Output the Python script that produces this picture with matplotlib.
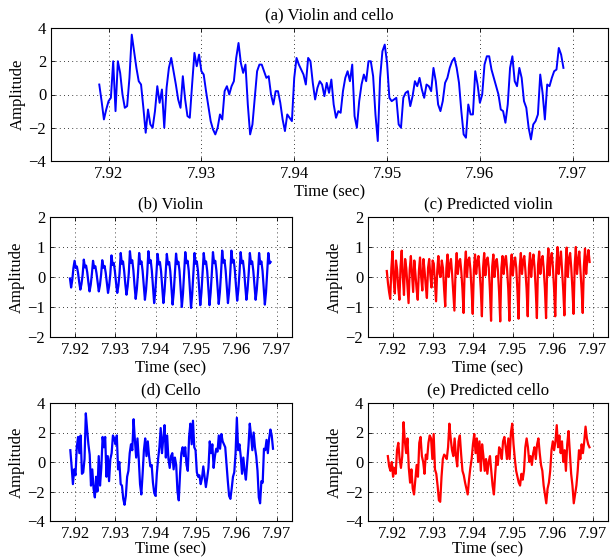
import numpy as np
import matplotlib
matplotlib.use("Agg")
import matplotlib.pyplot as plt

plt.rcParams['font.family'] = ['Liberation Serif', 'DejaVu Serif']
plt.rcParams['font.size'] = 12
plt.rcParams['axes.unicode_minus'] = True

# ---------------- data ----------------
mix_t0, mix_t1 = 7.9190, 7.9690
mix_vals = [
    0.6, -0.4, -1.5, -0.9, -0.4, -0.2, 2.0, -1.0, 2.0, 1.3, 0.0, -0.8, -0.7, 1.0, 3.6, 2.6,
    1.6, 0.8, 0.6, -0.8, -2.3, -0.9, -1.8, -2.0, -1.0, 0.5, -0.5, 0.3, -2.0, 0.4, 1.6, 2.2,
    1.4, 0.6, -0.3, -0.8, 1.1, -0.3, -1.3, -1.4, 0.6, 2.5, 1.7, 2.4, 1.4, 1.2, 0.2, -0.7,
    -1.6, -2.1, -2.4, -2.0, -1.2, -1.5, 0.2, 0.5, 0.0, 0.5, 0.8, 2.2, 3.1, 1.9, 1.3, 1.8,
    -0.6, -2.4, -1.8, -0.2, 1.4, 1.8, 1.8, 1.4, 1.0, 1.1, 0.0,
    -0.6, 0.2, 0.2, -0.5, -1.5, -2.2, -1.2, -1.4, -1.6, 1.0, 2.2, 1.8, 1.5, 1.2, 0.6, 2.2,
    2.0, 0.7, -0.3, 0.4, 0.8, 0.6, -0.1, 0.7, 0.1, 0.9, -0.6, -1.4, -1.0, -1.1, 0.2, 1.0,
    1.4, 0.8, 1.8, -1.3, -2.0, -0.4, 0.6, 1.2, 0.8, 2.0, 2.0, 1.1, -1.2, -2.8, 1.0, 2.6,
    3.0, 1.9, -0.2, -0.4, -0.3, -0.2, -1.8, -2.0, -0.2, 0.1, 0.2, -0.7, -0.1, 0.8, 0.5, 1.0,
    0.3, -0.2, 0.6, 0.5, 0.2, 1.6, 0.8, -0.6,
    -1.0, -0.4, 0.7, 1.0, 1.6, 2.0, 2.2, 1.6, 0.7, -1.0, -2.4, -2.6, -0.6, -1.2, -1.2, 1.4,
    0.6, -0.5, 0.0, 1.8, 2.3, 2.3, 1.5, 1.0, 0.5, 0.0, -0.9, -1.0, -1.7, -0.6, 1.6, 2.3,
    0.8, 0.5, 1.6, 1.0, -0.4, -0.8, -2.0, -2.7, -1.8, -1.6, -1.2, 1.2, 0.1, -1.5, 0.6, 0.5,
    1.0, 1.4, 1.5, 2.8, 2.4, 1.6,
]

violin_t0, violin_t1 = 7.91875, 7.9685
violin_vals = [
    -0.05, -0.35, -0.10, 0.30,
    0.54, 0.30, 0.35, 0.14, -0.17, -0.42, -0.23, 0.08,
    0.58, 0.32, 0.38, 0.15, -0.19, -0.48, -0.26, 0.10,
    0.54, 0.30, 0.36, 0.13, -0.19, -0.48, -0.27, 0.08,
    0.56, 0.31, 0.37, 0.14, -0.21, -0.53, -0.29, 0.10,
    0.72, 0.40, 0.47, 0.18, -0.21, -0.53, -0.29, 0.12,
    0.80, 0.44, 0.52, 0.20, -0.24, -0.59, -0.32, 0.12,
    0.86, 0.47, 0.56, 0.22, -0.29, -0.73, -0.40, 0.13,
    0.80, 0.44, 0.52, 0.20, -0.30, -0.76, -0.42, 0.12,
    0.86, 0.47, 0.56, 0.21, -0.35, -0.87, -0.48, 0.14,
    0.77, 0.42, 0.50, 0.19, -0.35, -0.87, -0.48, 0.12,
    0.77, 0.42, 0.50, 0.19, -0.37, -0.92, -0.51, 0.12,
    0.78, 0.43, 0.51, 0.20, -0.40, -1.00, -0.55, 0.13,
    0.83, 0.46, 0.54, 0.21, -0.41, -1.03, -0.57, 0.13,
    0.80, 0.44, 0.52, 0.20, -0.38, -0.94, -0.52, 0.12,
    0.80, 0.44, 0.52, 0.20, -0.38, -0.94, -0.52, 0.12,
    0.83, 0.46, 0.54, 0.21, -0.36, -0.90, -0.50, 0.13,
    0.88, 0.48, 0.57, 0.22, -0.35, -0.87, -0.48, 0.14,
    0.88, 0.48, 0.57, 0.22, -0.32, -0.79, -0.43, 0.14,
    0.83, 0.46, 0.54, 0.21, -0.30, -0.76, -0.42, 0.13,
    0.80, 0.44, 0.52, 0.20, -0.30, -0.76, -0.42, 0.12,
    0.80, 0.44, 0.52, 0.20, -0.37, -0.92, -0.51, 0.12,
    0.80, 0.45, 0.50,
]

pviolin_t0, pviolin_t1 = 7.9185, 7.9692
pviolin_vals = [
    0.20, -0.20, -0.50,
    -0.73, 0.30, 0.86, -0.10, -0.55, 0.55, 0.25, -0.35,
    -0.76, 0.35, 0.88, 0.00, -0.60, 0.60, 0.30, -0.30,
    -0.87, 0.25, 0.70, 0.10, -0.50, 0.55, 0.10, -0.40,
    -0.76, 0.20, 0.65, 0.00, -0.45, 0.60, 0.20, -0.30,
    -0.70, 0.30, 0.60, 0.05, -0.35, 0.55, 0.45, -0.20,
    -0.81, 0.20, 0.70, 0.10, 0.00, 0.55, 0.30, -0.40,
    -0.98, 0.30, 0.75, 0.00, 0.40, 0.60, 0.10, -0.50,
    -1.12, 0.20, 0.80, 0.10, 0.50, 0.60, 0.20, -0.40,
    -1.20, 0.30, 0.85, 0.00, 0.55, 0.65, 0.25, -0.45,
    -1.23, 0.25, 0.75, 0.10, 0.50, 0.70, 0.20, -0.40,
    -1.31, 0.30, 0.80, 0.05, 0.55, 0.65, 0.30, -0.45,
    -1.46, 0.35, 0.75, 0.00, 0.50, 0.60, 0.20, -0.50,
    -1.48, 0.30, 0.70, 0.10, 0.55, 0.70, 0.25, -0.40,
    -1.46, 0.30, 0.75, 0.05, 0.50, 0.65, 0.30, -0.45,
    -1.39, 0.35, 0.80, 0.10, 0.55, 0.70, 0.20, -0.40,
    -1.31, 0.30, 0.80, 0.00, 0.50, 0.75, 0.30, -0.45,
    -1.37, 0.40, 0.85, 0.10, 0.55, 0.70, 0.25, -0.40,
    -1.37, 0.35, 0.95, 0.05, 0.60, 0.80, 0.30, -0.40,
    -1.31, 0.40, 1.00, 0.10, 0.55, 0.85, 0.20, -0.45,
    -1.28, 0.35, 0.98, 0.00, 0.60, 0.80, 0.30, -0.40,
    -1.23, 0.40, 1.00, 0.10, 0.55, 0.85, 0.25, -0.40,
    -1.20, 0.35, 0.95, 0.10, 0.60, 0.90, 0.50,
]

cello_t0, cello_t1 = 7.91884, 7.96909
cello_vals = [
    0.8, -0.3, -1.5, -0.5, -0.9, 1.0, 1.7, 0.6, 1.8, -0.8, -0.7, 0.2, 3.3, 2.2, 1.2, 0.5,
    -1.6, -0.5, -1.8, -2.4, -1.0, -2.0, 0.4, -1.6, -0.4, 1.7, 1.0, 1.7, -1.0, 0.4, -1.3, 0.2,
    0.6, 1.8, 1.6, 1.2, 1.8, -0.5, 0.0, -1.5, -1.6, -2.5, -2.9, -2.3, -1.0, -0.6, 0.6, 1.2,
    0.8, 2.9, 1.5, 0.3, 1.6, 0.2, -1.5, -2.2, -0.8, 0.8, 1.6, 0.4, 1.4, 0.4, -0.3, -0.2,
    -1.4, -2.1, -2.3, -0.8, 0.2, 1.0, 2.3, 0.6, 1.6, 2.5, 0.3, 1.8, 0.2, -0.4, 0.4, 0.6,
    -0.5, 0.3, -0.2, -2.0, -2.6, -0.8, 0.6, 1.0, 0.4, 1.0, -0.2, -0.6, 1.7, 2.6, 1.2, 2.8,
    1.0, 0.8, -0.7, -1.0, -0.9, -1.5, -1.1, -0.3, -1.0, -1.7, -1.1, -0.4, 1.4, 0.6, 1.2, -0.4,
    0.4, 0.9, 0.7, 1.8, 0.9, 1.9, 1.4, 1.2, 1.0, -0.2, -1.3, -2.3, -2.5, -1.8, -1.0, -0.7,
    0.6, 3.0, 0.8, 1.2, 0.4, -0.8, 0.3, -0.6, -1.2, 0.0, 1.1, 2.6, 1.8, 0.8, 2.0, 1.0,
    0.4, -0.6, -2.4, -2.8, -1.3, -1.4, 0.9, 0.8, 1.5, 0.6, 1.6, 2.2, 1.8, 0.9,
]

pcello_t0, pcello_t1 = 7.91876, 7.96917
pcello_vals = [
    0.4, -0.3, -0.6, 0.0, -1.0, -0.4, -0.8, 0.8, 1.3, 0.2, -0.4, 0.4, 2.7, 1.4, 0.6, 1.6,
    -0.4, -1.4, -0.5, -1.8, -2.2, -1.2, -0.2, -1.0, 1.3, 1.7, 0.4, 0.0, -0.8, 0.5, 0.2, 1.3,
    1.8, 1.6, 0.2, 1.9, -0.5, -0.8, -1.6, -2.6, -2.7, -1.0, 0.2, 0.5, 0.4, 0.2, 1.0, 2.6,
    1.6, 0.8, 0.4, 1.6, 0.4, -0.3, 1.4, 1.8, 0.5, -0.6, -0.9, -1.4, -1.8, -2.2, -1.2, -0.4,
    0.2, 1.2, 1.9, 0.6, 1.6, 0.0, 1.4, -0.6, 1.2, 0.4, -0.6, 0.2, -0.8, 0.0, 0.4, -0.6,
    -1.6, -2.2, -0.8, 0.4, -0.2, 1.0, 0.8, 0.2, 1.4, 1.7, 1.0, 0.2, 1.6, 0.2, 2.0, 2.6,
    1.2, 0.2, -0.6, -1.0, -1.4, -1.6, -0.8, -1.2, -0.6, 1.0, 1.6, 1.0, 0.0, 0.4, -0.2, 0.6,
    1.0, 0.2, 1.2, 1.6, 0.6, -0.2, -0.6, -1.6, -2.2, -2.8, -1.8, -1.4, -0.6, 0.8, 1.4, 0.8,
    1.4, 2.5, 1.0, 1.8, 0.6, 1.4, 0.0, 0.8, -0.6, 1.2, 2.1, 0.6, -0.8, -1.6, -2.8, -2.2,
    -1.6, -0.6, 0.8, 0.2, 1.2, 0.6, 1.4, 2.4, 1.6, 1.2, 1.0,
]

titles = ["(a) Violin and cello", "(b) Violin", "(c) Predicted violin",
          "(d) Cello", "(e) Predicted cello"]
xticks = [7.92, 7.93, 7.94, 7.95, 7.96, 7.97]
xtick_labels = ["7.92", "7.93", "7.94", "7.95", "7.96", "7.97"]
yticks_big = [-4, -2, 0, 2, 4]
yticks_small = [-2, -1, 0, 1, 2]
xlabel = "Time (sec)"
ylabel = "Amplitude"

# ---------------- layout ----------------
W, H = 610, 560
fig = plt.figure(figsize=(W / 100, H / 100), dpi=100)


def pos(l, r, t, b):
    return [l / W, 1 - b / H, (r - l) / W, (b - t) / H]


panels = [
    (pos(51, 608, 28, 161), mix_t0, mix_t1, mix_vals, 'blue', yticks_big, 1.4, 2),
    (pos(50, 292, 217, 337), violin_t0, violin_t1, violin_vals, 'blue', yticks_small, 1.6, 2),
    (pos(368, 608, 217, 337), pviolin_t0, pviolin_t1, pviolin_vals, 'red', yticks_small, 1.6, 2),
    (pos(50, 292, 403, 521), cello_t0, cello_t1, cello_vals, 'blue', yticks_big, 1.6, 0),
    (pos(368, 608, 403, 521), pcello_t0, pcello_t1, pcello_vals, 'red', yticks_big, 1.6, 0),
]

for (p, t0, t1, vals, col, yt, lw, lpad), title in zip(panels, titles):
    ax = fig.add_axes(p)
    t = np.linspace(t0, t1, len(vals))
    ax.plot(t, vals, color=col, lw=lw)
    ax.set_xlim(7.9138, 7.9738)
    ax.set_ylim(yt[0], yt[-1])
    ax.set_xticks(xticks)
    ax.set_xticklabels(xtick_labels)
    ax.set_yticks(yt)
    ax.grid(True, color='black', linestyle=(0, (1, 4)), linewidth=0.6)
    ax.tick_params(direction='in', top=True, right=True, length=3, width=0.6,
                   labelsize=12)
    for s in ax.spines.values():
        s.set_linewidth(0.8)
    ax.set_title(title, fontsize=12, pad=6)
    ax.set_xlabel(xlabel, fontsize=12, labelpad=lpad)
    ax.set_ylabel(ylabel, fontsize=12, labelpad=2)

fig.savefig("out.png", dpi=100)
